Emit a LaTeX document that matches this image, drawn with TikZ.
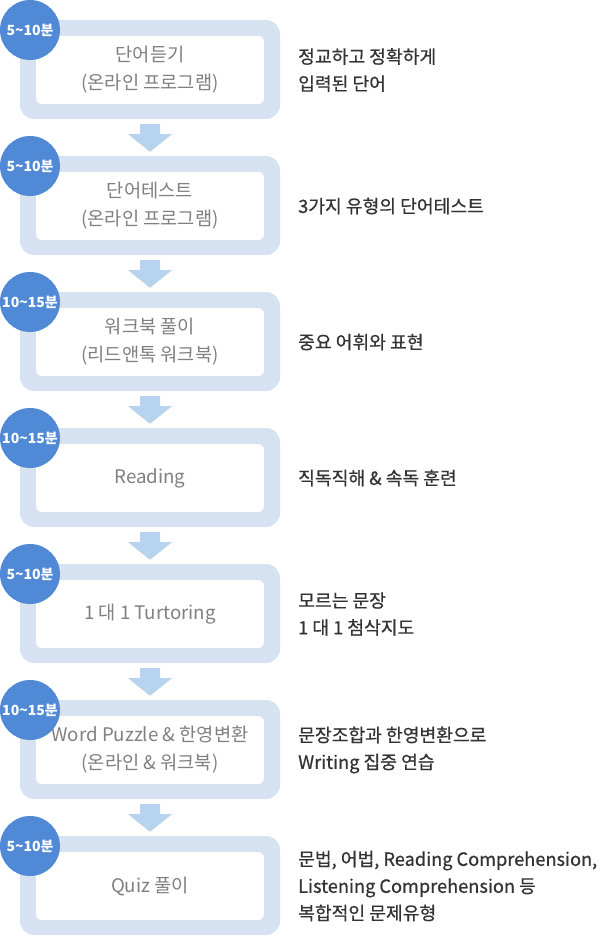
\documentclass[tikz,border=0pt]{standalone}
\usepackage{fontspec}
\setmainfont{Noto Sans CJK KR}
\newfontfamily\descfont[FakeBold=0.6]{Noto Sans CJK KR}
\usetikzlibrary{calc}
\definecolor{outerc}{RGB}{214,226,241}
\definecolor{arrowc}{RGB}{184,211,238}
\definecolor{circc}{RGB}{80,138,214}
\definecolor{boxtxt}{RGB}{128,128,128}
\definecolor{desctxt}{RGB}{51,51,51}
\newcommand\mystep[5]{%
  \node[outerbox] (o#1) at (150,#2+49.5) {};
  \node[innerbox] (b#1) at (150,#2+50) {#4};
  \node[timec] (t#1) at (30,#2+10) {#3};
  \node[desc] (d#1) at (298,#2+50) {#5};
}
\newcommand\myarrow[2]{%
  \fill[arrowc] ($(o#1.south)+(-10,5)$) -- ++(20,0) -- ++(0,10) -- ++(12,0)
    -- ($(o#2.north)+(0,-4)$) -- ($(o#1.south)+(-22,15)$) -- ++(12,0) -- cycle;
}
\begin{document}
\begin{tikzpicture}[x=1pt,y=-1pt,
  outerbox/.style={rectangle,rounded corners=14pt,fill=outerc,minimum width=260pt,minimum height=99pt,inner sep=0pt},
  innerbox/.style={rectangle,rounded corners=6pt,fill=white,minimum width=228pt,minimum height=68pt,inner sep=0pt,align=center,text=boxtxt,font=\fontsize{18.7}{28}\selectfont},
  timec/.style={circle,fill=circc,minimum size=60pt,inner sep=0pt,text=white,font=\fontsize{14}{14}\selectfont\bfseries},
  desc/.style={anchor=west,align=left,inner sep=0pt,text=desctxt,font=\descfont\fontsize{18.2}{27}\selectfont}]
\useasboundingbox (0,0) rectangle (602,936);
\mystep{1}{20}{5\textasciitilde10분}{단어듣기\\(온라인 프로그램)}{정교하고 정확하게\\입력된 단어}
\mystep{2}{156}{5\textasciitilde10분}{단어테스트\\(온라인 프로그램)}{3가지 유형의 단어테스트}
\mystep{3}{292}{10\textasciitilde15분}{워크북 풀이\\(리드앤톡 워크북)}{중요 어휘와 표현}
\mystep{4}{428}{10\textasciitilde15분}{Reading}{직독직해 \& 속독 훈련}
\mystep{5}{564}{5\textasciitilde10분}{1 대 1 Turtoring}{모르는 문장\\1 대 1 첨삭지도}
\mystep{6}{700}{10\textasciitilde15분}{Word Puzzle \& 한영변환\\(온라인 \& 워크북)}{문장조합과 한영변환으로\\Writing 집중 연습}
\mystep{7}{836}{5\textasciitilde10분}{Quiz 풀이}{문법, 어법, Reading Comprehension,\\Listening Comprehension 등\\복합적인 문제유형}
\myarrow{1}{2}
\myarrow{2}{3}
\myarrow{3}{4}
\myarrow{4}{5}
\myarrow{5}{6}
\myarrow{6}{7}
\end{tikzpicture}
\end{document}
